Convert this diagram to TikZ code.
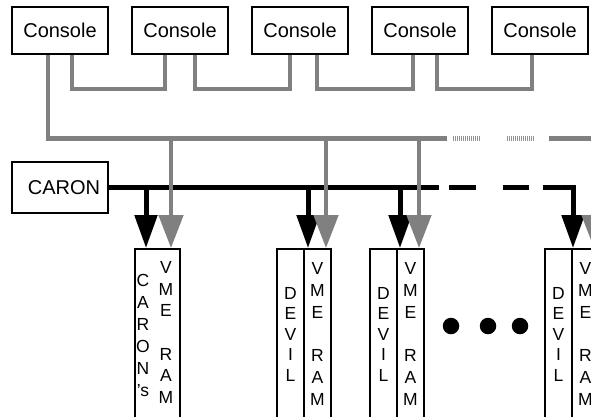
\documentclass[tikz,border=0pt]{standalone}
\usepackage{fontspec}
\setmainfont{Liberation Sans}
\usetikzlibrary{arrows.meta}
\tikzstyle{console} = [draw,line width=1.8pt,minimum width=96pt,minimum height=47pt,inner sep=0pt,font=\fontsize{20}{24}\selectfont,node distance=120pt]
\tikzstyle{card} = [draw,line width=1.8pt,minimum width=27pt,minimum height=170pt,inner sep=0pt,align=center,font=\fontsize{17.5}{20.5}\selectfont,node distance=27pt]
\tikzstyle{vme} = [font=\fontsize{17.5}{21.7}\selectfont]
\tikzstyle{letters} = [inner sep=0pt,align=center,font=\fontsize{17.5}{22}\selectfont]
\tikzstyle{gline} = [draw,color=gray,line width=4.5pt]
\tikzstyle{kline} = [draw,color=black,line width=5pt]
\tikzstyle{gdrop} = [gline,-{Triangle[length=33pt,width=24pt]}]
\tikzstyle{kdrop} = [kline,-{Triangle[length=33pt,width=22pt]}]
\tikzstyle{gdots} = [gline,color=gray!85,dash pattern=on 1pt off 1pt]
\tikzstyle{bigdot} = [fill,shape=circle,minimum size=16.5pt,inner sep=0pt]

\begin{document}
\begin{tikzpicture}[x=1pt,y=-1pt]
\useasboundingbox (0,0) rectangle (591,416);
\clip (0,0) rectangle (591,416);

\node[console]             (c1) at (60,30.5) {Console};
\node[console,right of=c1] (c2) {Console};
\node[console,right of=c2] (c3) {Console};
\node[console,right of=c3] (c4) {Console};
\node[console,right of=c4] (c5) {Console};
\node[console,minimum height=51pt] (caron) at (60,187.5) {\hspace*{8pt}CARON};

\node[card,minimum width=45pt] (mem0) at (157.5,334) {};
\node[letters] (crn) at (143,335.5) {C\\A\\R\\O\\N\\'s};
\node[letters,font=\fontsize{17.5}{21.7}\selectfont] (ram0) at (166,332.5) {V\\M\\E\\[21.7pt]R\\A\\M};

\node[card]                    (dev1) at (290.5,334) {D\\E\\V\\I\\L};
\node[card,vme,right of=dev1]  (ram1) {V\\M\\E\\[21.7pt]R\\A\\M};
\node[card]                    (dev2) at (383.5,334) {D\\E\\V\\I\\L};
\node[card,vme,right of=dev2]  (ram2) {V\\M\\E\\[21.7pt]R\\A\\M};
\node[card]                    (dev3) at (558.5,334) {D\\E\\V\\I\\L};
\node[card,vme,right of=dev3]  (ram3) {V\\M\\E\\[21.7pt]R\\A\\M};

\node[bigdot] (d1) at (451,326) {};
\node[bigdot] (d2) at (488,326) {};
\node[bigdot] (d3) at (520,326) {};

\coordinate (k1) at (146,187.5);
\coordinate (k2) at (308,187.5);
\coordinate (k3) at (400,187.5);
\coordinate (k4) at (573,187.5);
\draw[kline,dash pattern=on 330pt off 10pt on 27pt off 27pt on 26pt off 14pt on 200pt] (caron.east) -- (k4);
\draw[kdrop] (k1) -- (k1 |- mem0.north);
\draw[kdrop] (k2) -- (k2 |- ram1.north);
\draw[kdrop] (k3) -- (k3 |- ram2.north);
\draw[kdrop,line cap=rect] (k4) -- (k4 |- ram3.north);

\draw[gline] ([xshift=12pt]c1.south) -- ++(0,34) -| ([xshift=-15pt]c2.south);
\draw[gline] ([xshift=15pt]c2.south) -- ++(0,34) -| ([xshift=-10pt]c3.south);
\draw[gline] ([xshift=17pt]c3.south) -- ++(0,34) -| ([xshift=-7pt]c4.south);
\draw[gline] ([xshift=17pt]c4.south) -- ++(0,34) -| ([xshift=-8pt]c5.south);

\coordinate (g0) at (48,138.5);
\coordinate (g1) at (447,138.5);
\coordinate (g2) at (549,138.5);
\coordinate (g3) at (600,138.5);
\draw[gline] ([xshift=-12pt]c1.south) -- (g0) -- (g1);
\draw[gdots] (453,138.5) -- (480,138.5);
\draw[gdots] (507,138.5) -- (534,138.5);
\draw[gline] (g2) -- (g3);

\coordinate (t1) at (171,138.5);
\coordinate (t2) at (326,138.5);
\coordinate (t3) at (419,138.5);
\coordinate (t4) at (594,138.5);
\draw[gdrop] (t1) -- (t1 |- mem0.north);
\draw[gdrop] (t2) -- (t2 |- ram1.north);
\draw[gdrop] (t3) -- (t3 |- ram2.north);
\draw[gdrop] (t4) -- (t4 |- ram3.north);
\end{tikzpicture}
\end{document}
